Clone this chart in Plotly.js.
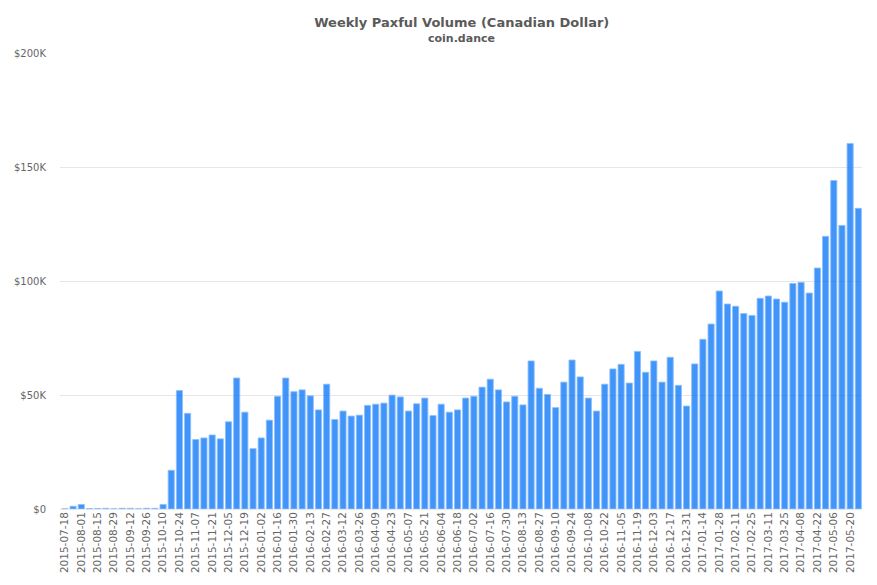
<!DOCTYPE html>
<html>
<head>
<meta charset="utf-8">
<script src="https://cdn.plot.ly/plotly-3.0.1.min.js"></script>
<style>html,body{margin:0;padding:0;background:#fff}</style>
</head>
<body>
<div id="chart" style="width:877px;height:585px"></div>
<script>
const weeks = [
"2015-07-18","2015-07-25","2015-08-01","2015-08-08","2015-08-15","2015-08-22","2015-08-29","2015-09-05","2015-09-12","2015-09-19",
"2015-09-26","2015-10-03","2015-10-10","2015-10-17","2015-10-24","2015-10-31","2015-11-07","2015-11-14","2015-11-21","2015-11-28",
"2015-12-05","2015-12-12","2015-12-19","2015-12-26","2016-01-02","2016-01-09","2016-01-16","2016-01-23","2016-01-30","2016-02-06",
"2016-02-13","2016-02-20","2016-02-27","2016-03-05","2016-03-12","2016-03-19","2016-03-26","2016-04-02","2016-04-09","2016-04-16",
"2016-04-23","2016-04-30","2016-05-07","2016-05-14","2016-05-21","2016-05-28","2016-06-04","2016-06-11","2016-06-18","2016-06-25",
"2016-07-02","2016-07-09","2016-07-16","2016-07-23","2016-07-30","2016-08-06","2016-08-13","2016-08-20","2016-08-27","2016-09-03",
"2016-09-10","2016-09-17","2016-09-24","2016-10-01","2016-10-08","2016-10-15","2016-10-22","2016-10-29","2016-11-05","2016-11-12",
"2016-11-19","2016-11-26","2016-12-03","2016-12-10","2016-12-17","2016-12-24","2016-12-31","2017-01-07","2017-01-14","2017-01-21",
"2017-01-28","2017-02-04","2017-02-11","2017-02-18","2017-02-25","2017-03-04","2017-03-11","2017-03-18","2017-03-25","2017-04-01",
"2017-04-08","2017-04-15","2017-04-22","2017-04-29","2017-05-06","2017-05-13","2017-05-20","2017-05-27"];
const volume = [
100,1200,2000,200,200,300,100,300,300,100,
300,300,2000,17000,52000,42000,30500,31200,32500,30800,
38300,57500,42500,26500,31200,39000,49500,57500,51500,52300,
49700,43500,54800,39300,43000,40800,41200,45500,46000,46500,
50000,49200,43000,46200,48700,41000,46000,42500,43500,48700,
49500,53500,57000,52300,47000,49500,45700,65000,53000,50300,
44500,55700,65400,58000,48700,43000,54800,61500,63500,55300,
69200,60000,65000,55700,66600,54300,45200,63700,74500,81200,
95700,90000,89000,85800,85000,92500,93500,92200,90800,99000,
99500,94800,105800,119700,144200,124500,160500,132000];
const xTicks = weeks.filter((d,i)=>i%2===0 && i<97);
const yTicks = [0,50000,100000,150000,200000];
const yLabels = ["$0","$50K","$100K","$150K","$200K"];

Plotly.newPlot('chart',[{
  type:'bar', x:weeks, y:volume,
  marker:{color:'rgba(2,112,245,0.75)',line:{color:'rgba(140,190,255,0.85)',width:1}},
  hoverinfo:'x+y'
}],{
  width:877,height:585,
  margin:{l:60,r:15,t:53,b:76},
  paper_bgcolor:'#fff',plot_bgcolor:'#fff',
  bargap:0.25,
  showlegend:false,
  font:{family:'"DejaVu Sans",sans-serif',size:10,color:'#666'},
  title:{text:'Weekly Paxful Volume (Canadian Dollar)',x:0.5265,xanchor:'center',y:0.961,yanchor:'middle',
    font:{family:'"DejaVu Sans",sans-serif',size:13,color:'#5a5a5a',weight:'bold'}},
  annotations:[{text:'<b>coin.dance</b>',xref:'paper',yref:'paper',x:0.5,y:1.0315,xanchor:'center',yanchor:'middle',
    showarrow:false,font:{family:'"DejaVu Sans",sans-serif',size:11,color:'#5a5a5a'}}],
  xaxis:{type:'category',categoryorder:'array',categoryarray:weeks,range:[-0.6,97.45],
    tickmode:'array',tickvals:xTicks,ticktext:xTicks,tickangle:-90,ticks:'',showgrid:false,zeroline:false,showline:false,
    tickfont:{size:10.5,color:'#666'}},
  yaxis:{range:[0,200200],tickmode:'array',tickvals:yTicks,ticktext:yLabels,ticks:'',showgrid:true,gridcolor:'#e6e6e6',gridwidth:1,
    zeroline:true,zerolinecolor:'#e6e6e6',zerolinewidth:1,showline:false,ticklabelstandoff:13,tickfont:{size:10,color:'#666'}}
},{displayModeBar:false});
</script>
</body>
</html>
